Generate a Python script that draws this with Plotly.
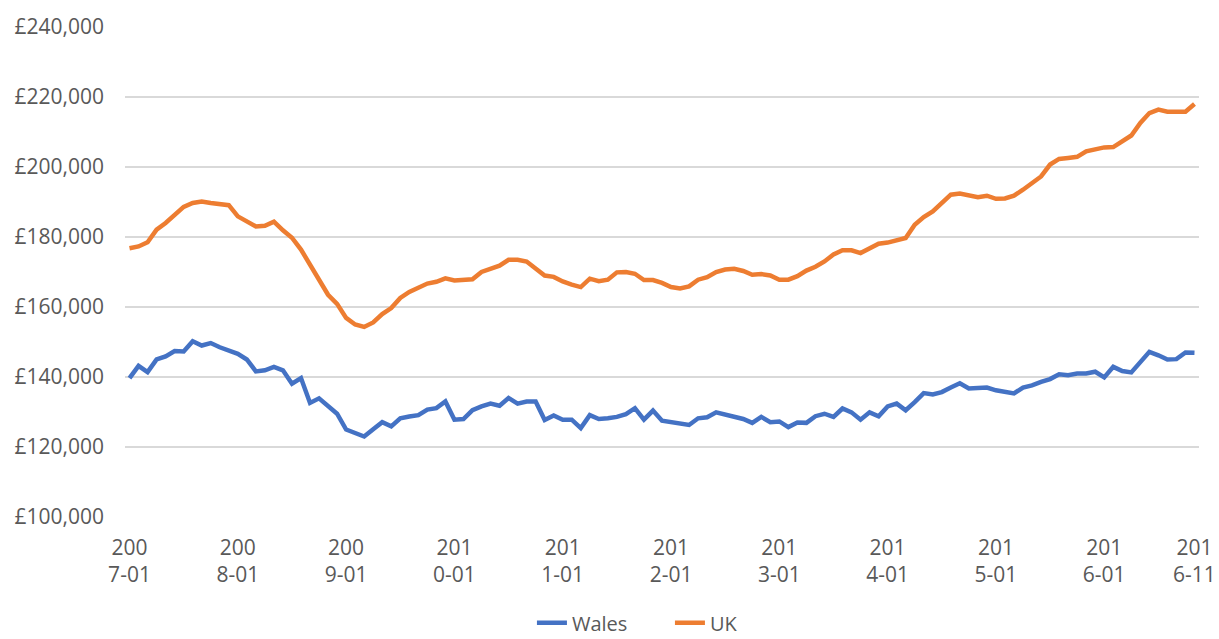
import plotly.graph_objects as go

# Monthly categories 2007-01 .. 2016-11
months = [f"{y}-{m:02d}" for y in range(2007, 2017) for m in range(1, 13)][:119]

wales = [
    139700, 143200, 141400, 145000, 145900, 147400, 147300, 150200, 149000, 149700,
    148500, 147400, 146600, 145000, 141600, 141900, 142900, 141900, 138100, 139700,
    132600, 133900, 131600, 129500, 125000, 124000, 123000, 125100, 127100, 125900,
    128200, 128700, 129100, 130700, 131100, 133000, 127800, 128000, 130500, 131600,
    132400, 131800, 134000, 132400, 133000, 133000, 127700, 129000, 127800, 127800,
    125400, 129100, 128000, 128200, 128600, 129400, 131100, 127800, 130400, 127500,
    127100, 126400, 126300, 128200, 128500, 129900, 129200, 128800, 128000, 126900,
    128600, 127100, 127300, 125700, 127000, 126900, 128800, 129500, 128600, 131000,
    129900, 127800, 129900, 128800, 131600, 132400, 130500, 132800, 135400, 135000,
    135700, 137000, 138200, 136700, 137000, 137000, 136200, 135600, 135300, 137000,
    137600, 138600, 139400, 140800, 140500, 141000, 141000, 141500, 139900, 142900,
    141700, 141300, 144500, 147200, 146200, 145000, 145100, 147000, 146900,
]

uk = [
    176800, 177300, 178500, 182100, 184000, 186100, 188600, 189700, 190100, 189700,
    189500, 189100, 185900, 184400, 183000, 183200, 184400, 181900, 179800, 176400,
    172100, 168300, 163500, 160900, 156900, 155000, 154300, 155600, 158000, 159700,
    162600, 164300, 165600, 166700, 167200, 168200, 167600, 167900, 167900, 170000,
    170900, 171800, 173500, 173500, 173000, 170900, 169000, 168600, 167300, 166400,
    165700, 168100, 167400, 167800, 169900, 170000, 169500, 167700, 167700, 166900,
    165700, 165300, 165900, 167800, 168500, 170000, 170700, 170900, 170300, 169200,
    169400, 169000, 167800, 167800, 168800, 170400, 171500, 173000, 175000, 176200,
    176200, 175400, 176600, 178100, 178400, 179000, 179700, 183500, 185700, 187300,
    189700, 192100, 192400, 191900, 191400, 191800, 190900, 191000, 191800, 193500,
    195600, 197300, 200700, 202300, 202600, 202900, 204500, 205200, 205600, 205700,
    207300, 209000, 212600, 215400, 216400, 215800, 215800, 215800, 218000,
]

tick_vals = ["2007-01", "2008-01", "2009-01", "2010-01", "2011-01", "2012-01",
             "2013-01", "2014-01", "2015-01", "2016-01", "2016-11"]
tick_text = ["200<br>7-01", "200<br>8-01", "200<br>9-01", "201<br>0-01", "201<br>1-01",
             "201<br>2-01", "201<br>3-01", "201<br>4-01", "201<br>5-01", "201<br>6-01",
             "201<br>6-11"]

y_vals = [100000, 120000, 140000, 160000, 180000, 200000, 220000, 240000]
y_text = ["£100,000", "£120,000", "£140,000", "£160,000", "£180,000",
          "£200,000", "£220,000", "£240,000"]

fig = go.Figure()
fig.add_trace(go.Scatter(x=months, y=wales, mode="lines", name="Wales",
                         line=dict(color="#4472C4", width=4.5)))
fig.add_trace(go.Scatter(x=months, y=uk, mode="lines", name="UK",
                         line=dict(color="#ED7D31", width=4.5)))

font = dict(family="Open Sans, Liberation Sans, sans-serif", size=21, color="#595959")

fig.update_layout(
    width=1219, height=639,
    margin=dict(l=125, r=20, t=27, b=122, autoexpand=False),
    paper_bgcolor="white", plot_bgcolor="white",
    font=font,
    showlegend=True,
    legend=dict(orientation="h", x=0.3789, xanchor="left", y=-0.216, yanchor="middle",
                font=dict(family=font["family"], size=20, color="#595959"),
                entrywidth=93, entrywidthmode="pixels", traceorder="normal"),
)
fig.update_xaxes(type="category", categoryorder="array", categoryarray=months,
                 range=[-0.5, 118.5], tickmode="array", tickvals=tick_vals,
                 ticktext=tick_text, showgrid=False, showline=False, zeroline=False,
                 tickangle=0, ticks="", ticklabelstandoff=16, tickfont=font,
                 automargin=False)
fig.update_yaxes(range=[100000, 240000], tickmode="array", tickvals=y_vals,
                 ticktext=y_text, showgrid=True, gridcolor="#D9D9D9", gridwidth=1.5,
                 zeroline=False, showline=False, ticks="", ticklabelstandoff=20,
                 tickfont=font, automargin=False)

fig.write_html(
    "out.html",
    config={"displayModeBar": False},
    post_script="document.body.style.margin='0';document.body.style.overflow='hidden';",
)
